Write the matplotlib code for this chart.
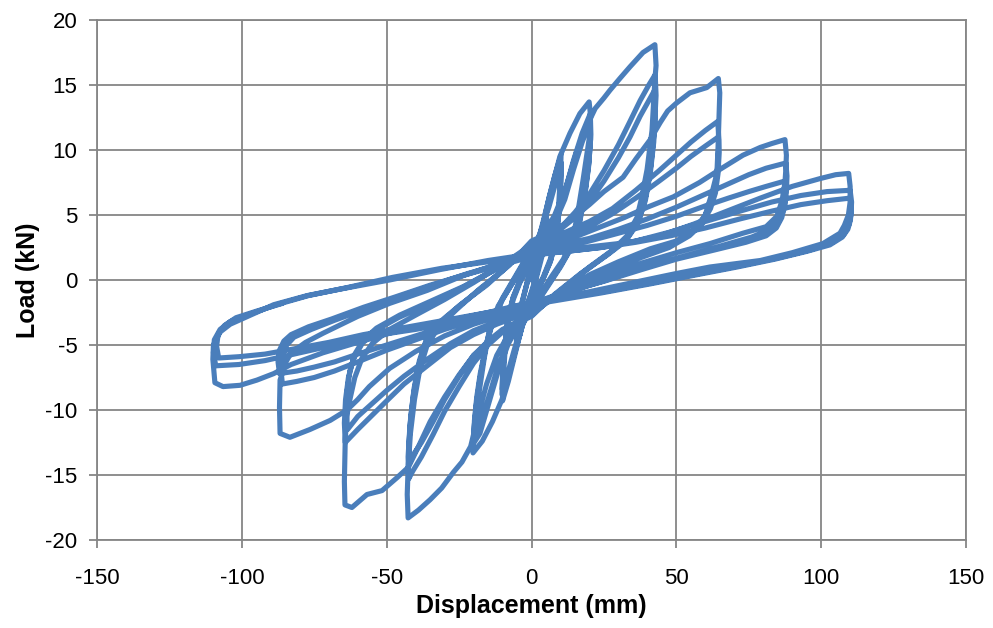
import matplotlib
matplotlib.use("Agg")
import matplotlib.pyplot as plt

# ---- data: (displacement mm, load kN), cycle by cycle ----
cycle_05_1 = [(0,0),(2,2.2),(4,4.2),(5.2,5.0),(4.8,3.8),(3.5,2.0),(1.5,0.2),(0,-0.9),(-2,-2.2),(-4,-4.2),
              (-5.2,-5.0),(-4.8,-3.8),(-3.5,-2.0),(-1.5,-0.2),(0,0.9)]
cycle_05_2 = [(2.2,2.4),(4.2,4.1),(5.3,4.7),(4.9,3.6),(3.6,1.8),(1.6,0.1),(0,-1.0),(-2,-2.3),(-4,-4.0),
              (-5.2,-4.7),(-4.8,-3.6),(-3.4,-1.8),(-1.4,-0.1),(0,1.0)]
cycle_10_1 = [(2,2.6),(4,4.3),(6,6.3),(8,8.0),(10.2,9.6),(10.0,8.0),(9.3,5.5),(8.3,3.3),(6.5,1.6),(4,0.2),
              (2,-0.6),(0,-1.4),(-2,-2.6),(-4,-4.2),(-6,-6.0),(-8,-7.8),(-10,-9.3),(-9.8,-7.8),(-9.1,-5.3),
              (-8.1,-3.2),(-6.3,-1.5),(-4,-0.2),(-2,0.6),(0,1.4)]
cycle_10_2 = [(2,2.7),(4,4.2),(6,5.9),(8,7.6),(10.3,9.0),(10.1,7.4),(9.4,5.1),(8.4,3.1),(6.6,1.5),(4,0.1),
              (2,-0.7),(0,-1.6),(-2,-2.8),(-4,-4.0),(-6,-5.7),(-8,-7.3),(-10.2,-8.8),(-10.0,-7.3),(-9.2,-5.0),
              (-8.2,-3.0),(-6.4,-1.4),(-4,-0.1),(-2,0.9),(0,1.8)]
cycle_10_3 = [(2,3.0),(4,4.3),(6,5.6),(8,7.2),(10.2,8.5),(10.0,7.0),(9.3,4.8),(8.3,2.9),(6.5,1.4),(4,0.1),
              (2,-0.9),(0,-1.9),(-2,-2.9),(-4,-3.9),(-6,-5.4),(-8,-7.0),(-10.1,-8.4),(-9.9,-7.0),(-9.1,-4.8),
              (-8.1,-2.9),(-6.3,-1.3),(-4,0.0),(-2,1.0),(0,2.0)]
cycle_20_1 = [(3,3.6),(6.4,6.6),(9.8,9.5),(13.3,11.3),(16.7,12.8),(19.9,13.7),(20.4,12.6),(20.0,11.0),
              (19.0,9.5),(17.8,7.7),(15.7,4.8),(14.3,3.3),(11,1.6),(7,0.3),(3,-1.1),(0,-2.2),(-3,-3.4),
              (-6.5,-6.2),(-10.2,-9.2),(-13.5,-10.9),(-17,-12.4),(-20.2,-13.3),(-20.0,-12.2),(-19.2,-10.5),
              (-18.0,-8.5),(-16.3,-6.0),(-14.5,-3.8),(-11.5,-2.0),(-7,-0.4),(-3,1.0),(0,2.2)]
cycle_20_2 = [(4,3.2),(8,4.8),(11.5,6.8),(14.5,9.2),(17.5,11.3),(20.3,12.8),(20.5,11.2),(19.8,9.0),
              (18.4,6.6),(16.3,4.2),(14,2.6),(10,1.1),(5,-0.6),(0,-2.3),(-4,-3.3),(-8,-4.9),(-11.5,-7.0),
              (-14.5,-9.3),(-17.8,-11.8),(-20.1,-12.6),(-19.8,-11.3),(-19.0,-9.5),(-17.8,-7.6),(-15.8,-5.2),
              (-13.5,-3.3),(-10,-1.5),(-5,0.4),(0,2.3)]
cycle_20_3 = [(4,3.1),(8,4.4),(11.5,6.2),(14.5,8.5),(17.5,10.6),(20.2,12.2),(20.4,10.8),(19.7,8.7),
              (18.3,6.3),(16.2,4.0),(13.8,2.5),(10,1.0),(5,-0.7),(0,-2.4),(-4,-3.3),(-8,-4.7),(-11.5,-6.6),
              (-14.5,-8.8),(-17.5,-11.0),(-19.9,-12.0),(-19.7,-10.8),(-18.9,-9.0),(-17.7,-7.2),(-15.6,-4.9),
              (-13.3,-3.1),(-10,-1.4),(-5,0.5),(0,2.4)]
cycle_42_1 = [(4,3.4),(8,5.0),(12,7.2),(15.5,9.8),(19,11.8),(22,13.2),(25,14.0),(27.1,14.6),(30.5,15.5),
              (34,16.4),(38.5,17.5),(42.6,18.1),(43,16.5),(42.6,15.4),(41.6,11.5),(39.9,8.5),(38,6.3),
              (36.4,4.8),(33,3.4),(28,2.3),(20,1.0),(10,-0.8),(0,-2.6),(-4,-3.2),(-8,-4.2),(-12,-5.8),
              (-15.5,-8.0),(-18.5,-10.5),(-21,-12.8),(-24,-14.0),(-27,-14.8),(-31,-16.0),(-35,-16.9),
              (-39,-17.7),(-42.6,-18.3),(-42.9,-16.5),(-42.6,-14.5),(-41.8,-11.8),(-40.4,-9.2),(-38.5,-6.8),
              (-36,-5.0),(-32,-3.6),(-26,-2.3),(-18,-0.7),(-9,0.9),(0,2.8)]
cycle_42_2 = [(5,3.3),(10,4.0),(15,5.2),(20,6.6),(25,8.4),(30,10.4),(34,12.2),(37.5,13.8),(40.5,15.0),
              (42.7,15.8),(43,14.2),(42.4,11.5),(41.2,8.8),(39.5,6.5),(37,4.6),(33,3.2),(27,2.1),(18,0.6),
              (9,-1.0),(0,-2.7),(-5,-3.3),(-10,-4.0),(-15,-5.0),(-20,-6.4),(-25,-8.2),(-30,-10.1),(-34,-11.9),
              (-38,-13.6),(-41,-14.7),(-42.4,-15.3),(-42.6,-13.6),(-42,-11.3),(-40.8,-8.9),(-39,-6.6),
              (-36.5,-4.8),(-32,-3.4),(-25,-2.0),(-16,-0.4),(-8,1.1),(0,2.9)]
cycle_42_3 = [(5,3.3),(10,3.9),(15,4.8),(20,6.0),(25,7.6),(30,9.4),(34,11.0),(37.5,12.6),(40.5,13.8),
              (42.5,14.6),(42.8,13.0),(42.2,10.6),(41,8.2),(39.3,6.1),(36.8,4.4),(32.5,3.0),(26,1.9),(17,0.5),
              (8,-1.1),(0,-2.8),(-5,-3.3),(-10,-3.8),(-15,-4.7),(-20,-5.8),(-25,-7.4),(-30,-9.2),(-34,-10.9),
              (-38,-12.5),(-41,-13.5),(-42,-14.0),(-42.3,-12.6),(-41.7,-10.5),(-40.5,-8.3),(-38.7,-6.2),
              (-36.2,-4.5),(-31.5,-3.2),(-24.5,-1.9),(-15.5,-0.4),(-7.5,1.2),(0,3.0)]
cycle_65_1 = [(5,3.5),(10,4.1),(15,4.9),(20,5.8),(25,6.8),(31.6,7.9),(36,9.3),(41,10.8),(44.4,12.1),(47,13.0),
              (50,13.6),(54.7,14.4),(60.5,14.8),(64.5,15.5),(65,14.4),(64.7,12.3),(64.4,10.2),(64,8.2),
              (62.3,6.7),(60,5.0),(56,3.8),(50,3.0),(41,2.4),(30,1.4),(20,0.4),(10,-1.0),(0,-2.6),(-5,-3.2),
              (-10,-3.9),(-15,-4.8),(-20,-5.8),(-25,-7.3),(-30,-9.0),(-35,-10.9),(-39,-12.8),(-42.5,-14.4),
              (-46.4,-15.2),(-51.6,-16.2),(-56.8,-16.5),(-62,-17.5),(-64.4,-17.3),(-64.6,-15.5),(-64.3,-12.3),
              (-63.8,-10.5),(-62.7,-9.2),(-61,-7.5),(-58.5,-6.0),(-55,-4.9),(-49,-3.8),(-40,-2.7),(-30,-1.5),
              (-20,-0.2),(-10,1.2),(0,2.7)]
cycle_65_2 = [(6,3.2),(12,3.7),(20,4.5),(28,5.5),(36,6.9),(44,8.4),(50,9.6),(55,10.6),(60,11.5),(64.3,12.2),
              (64.7,10.8),(64.4,9.0),(63.6,7.3),(62,5.9),(59,4.6),(55,3.6),(48,2.7),(38,1.9),(25,0.7),(12,-0.8),
              (0,-2.4),(-6,-2.9),(-12,-3.4),(-20,-4.2),(-28,-5.2),(-36,-6.6),(-44,-8.0),(-50,-9.3),(-55,-10.4),
              (-60,-11.5),(-64.3,-12.5),(-64.6,-11.0),(-64.2,-9.2),(-63.2,-7.5),(-61.5,-6.1),(-58.5,-4.9),
              (-54,-3.9),(-46,-2.9),(-36,-1.9),(-24,-0.6),(-12,0.9),(0,2.5)]
cycle_65_3 = [(6,3.0),(12,3.4),(20,4.1),(28,5.1),(36,6.3),(44,7.6),(50,8.6),(55,9.5),(60,10.3),(64.5,11.0),
              (64.8,9.8),(64.4,8.2),(63.5,6.7),(61.8,5.5),(58.8,4.3),(54.5,3.4),(47.5,2.5),(37.5,1.7),(25,0.5),
              (12,-0.9),(0,-2.3),(-6,-2.7),(-12,-3.2),(-20,-3.9),(-28,-4.9),(-36,-6.1),(-44,-7.4),(-50,-8.5),
              (-55,-9.5),(-60,-10.5),(-63.5,-11.5),(-63.9,-10.1),(-63.6,-8.5),(-62.7,-7.0),(-61,-5.7),
              (-58,-4.6),(-53.5,-3.7),(-45.5,-2.7),(-35.5,-1.7),(-23.5,-0.5),(-11.5,0.9),(0,2.3)]
cycle_87_1 = [(8,2.9),(16,3.4),(24,4.1),(32,4.8),(40,5.6),(49,6.4),(58,7.5),(65,8.5),(73,9.6),(79,10.2),
              (83,10.5),(87.5,10.8),(88,9.6),(87.8,8.5),(87.5,7.5),(86.5,6.1),(84.7,4.9),(81,4.1),(73,3.6),
              (61.6,2.8),(50,2.1),(38,1.3),(25,0.3),(12,-0.8),(0,-2.0),(-10,-2.7),(-20,-3.4),(-30,-4.3),
              (-40,-5.5),(-49,-6.8),(-56,-8.2),(-60,-9.2),(-63.7,-10.0),(-69.5,-10.8),(-76.5,-11.5),
              (-83.4,-12.1),(-86.8,-11.8),(-87,-9.8),(-86.8,-7.7),(-85,-6.4),(-83,-5.6),(-78,-4.8),(-72,-4.1),
              (-60,-2.8),(-49,-1.8),(-36,-0.8),(-24,0.3),(-12,1.2),(0,2.2)]
cycle_87_2 = [(10,2.7),(20,3.2),(30,3.9),(40,4.7),(50,5.6),(60,6.6),(68,7.4),(75,8.1),(81,8.6),(87.8,9.0),
              (88.2,8.0),(88,6.8),(87.3,5.6),(85.6,4.6),(82.5,3.9),(76,3.3),(65,2.6),(52,1.8),(39,1.0),(26,0.0),
              (13,-0.9),(0,-1.9),(-10,-2.5),(-20,-3.1),(-30,-3.8),(-40,-4.6),(-50,-5.4),(-60,-6.3),(-68,-7.0),
              (-75,-7.5),(-81,-7.8),(-86,-8.0),(-86.5,-6.9),(-86,-5.8),(-84.5,-5.0),(-82,-4.4),(-76,-3.8),
              (-68,-3.1),(-57,-2.2),(-46,-1.3),(-34,-0.4),(-22,0.5),(-11,1.2),(0,2.0)]
cycle_87_3 = [(10,2.5),(20,3.0),(30,3.6),(40,4.2),(50,4.9),(60,5.7),(68,6.3),(75,6.8),(81,7.2),(87.3,7.6),
              (87.7,6.7),(87.4,5.7),(86.4,4.8),(84.5,4.0),(81,3.4),(74,2.9),(63,2.3),(50,1.6),(38,0.8),(25,-0.1),
              (12,-0.9),(0,-1.8),(-10,-2.4),(-20,-3.0),(-30,-3.6),(-40,-4.3),(-50,-5.0),(-60,-5.7),(-68,-6.3),
              (-75,-6.7),(-81,-7.0),(-87,-7.2),(-87.5,-6.3),(-87,-5.4),(-85.5,-4.7),(-83,-4.2),(-77,-3.6),
              (-69,-3.0),(-58,-2.1),(-47,-1.3),(-35,-0.4),(-23,0.4),(-11,1.1),(0,1.8)]
cycle_109_1 = [(10,2.3),(22,2.6),(34,2.9),(44.4,3.4),(56,4.3),(67.5,5.3),(79,6.3),(90,7.2),(99.6,7.8),
               (105,8.1),(109.5,8.2),(110,7.2),(110,6.0),(109.4,5.0),(108,4.2),(106.5,3.6),(100.6,2.8),
               (90,2.1),(79,1.5),(61.6,1.0),(50,0.5),(35,-0.2),(20,-0.9),(0,-1.7),(-15,-2.6),(-30,-3.4),
               (-40,-3.8),(-49,-4.1),(-60,-4.8),(-72,-5.6),(-83,-6.5),(-89,-7.2),(-94.8,-7.7),(-100.6,-8.1),
               (-106.5,-8.2),(-109.3,-7.9),(-110,-6.1),(-109.8,-5.0),(-107.5,-4.0),(-104,-3.4),(-98,-2.8),
               (-89,-1.9),(-77.5,-1.2),(-66,-0.7),(-49,0.0),(-31.6,0.8),(-15,1.5),(0,2.0)]
cycle_109_2 = [(12,2.2),(24,2.5),(36,3.0),(48,3.7),(60,4.5),(72,5.3),(83,6.0),(93,6.5),(102,6.8),(110,6.9),
               (110.5,6.0),(110.3,5.0),(109.5,4.2),(107.8,3.5),(104,2.9),(96,2.3),(85,1.7),(72,1.1),(58,0.5),
               (42,-0.2),(25,-0.9),(0,-1.7),(-15,-2.5),(-30,-3.2),(-45,-3.9),(-58,-4.5),(-70,-5.1),(-82,-5.7),
               (-92,-6.2),(-101,-6.5),(-109,-6.6),(-109.8,-5.6),(-109.5,-4.6),(-107.5,-3.8),(-104,-3.2),
               (-97,-2.6),(-88,-1.9),(-77,-1.2),(-64,-0.6),(-48,0.2),(-31,0.9),(-15,1.4),(0,1.9)]
cycle_109_3 = [(12,2.2),(24,2.5),(36,2.9),(48,3.4),(60,4.0),(72,4.7),(83,5.3),(93,5.8),(102,6.1),(110,6.3),
               (110.4,5.5),(110.1,4.6),(109.2,3.9),(107.3,3.3),(103,2.7),(95,2.2),(84,1.6),(71,1.0),(57,0.4),
               (41,-0.3),(24,-1.0),(0,-1.9),(-15,-2.5),(-30,-3.1),(-45,-3.7),(-58,-4.2),(-70,-4.8),(-82,-5.3),
               (-92,-5.7),(-101,-5.9),(-108,-6.0),(-108.7,-5.1),(-108.2,-4.2),(-106,-3.5),(-102,-2.9),
               (-95,-2.4),(-86,-1.8)]

cycles = [cycle_05_1, cycle_05_2, cycle_10_1, cycle_10_2, cycle_10_3,
          cycle_20_1, cycle_20_2, cycle_20_3, cycle_42_1, cycle_42_2, cycle_42_3,
          cycle_65_1, cycle_65_2, cycle_65_3, cycle_87_1, cycle_87_2, cycle_87_3,
          cycle_109_1, cycle_109_2, cycle_109_3]

x_ticks = [-150, -100, -50, 0, 50, 100, 150]
y_ticks = [-20, -15, -10, -5, 0, 5, 10, 15, 20]
x_label = "Displacement (mm)"
y_label = "Load (kN)"

disp = [p[0] for c in cycles for p in c]
load = [p[1] for c in cycles for p in c]

plt.rcParams['font.family'] = ['Liberation Sans', 'DejaVu Sans']
plt.rcParams['axes.unicode_minus'] = False

fig = plt.figure(figsize=(9.93, 6.28), dpi=100)
ax = fig.add_axes([97/993, 88/628, 869/993, 520/628])

ax.plot(disp, load, color='#4A7EBB', lw=3.7, solid_joinstyle='round', solid_capstyle='round', zorder=3)

ax.set_xlim(-150, 150)
ax.set_ylim(-20, 20)
ax.set_xticks(x_ticks)
ax.set_yticks(y_ticks)
ax.grid(True, color='#868686', lw=1.3, zorder=0)
ax.set_axisbelow(True)
for s in ax.spines.values():
    s.set_color('#868686')
    s.set_linewidth(1.3)
ax.tick_params(axis='both', colors='#868686', width=1.3, length=6, direction='out',
               labelcolor='black', labelsize=16)
ax.tick_params(axis='x', pad=14)
ax.tick_params(axis='y', pad=8)
ax.set_xlabel(x_label, fontsize=18, fontweight='bold', labelpad=4)
ax.set_ylabel(y_label, fontsize=18, fontweight='bold', labelpad=4)

fig.savefig('out.png', dpi=100)
